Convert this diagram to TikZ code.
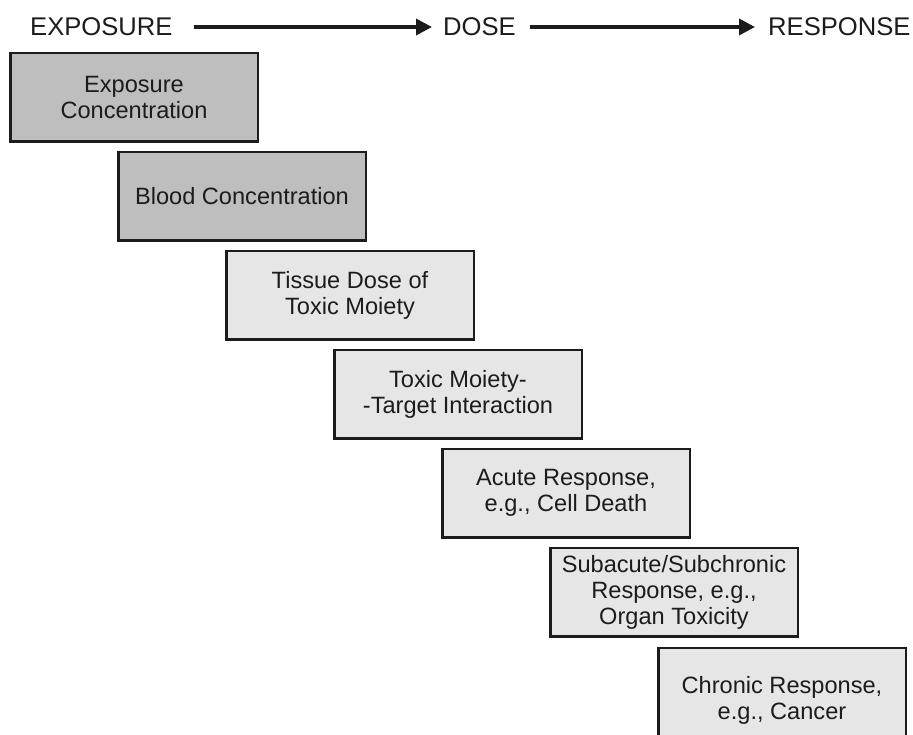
\documentclass[tikz,border=0pt]{standalone}
\usepackage{fontspec}
\setmainfont{Liberation Sans}
\usetikzlibrary{arrows.meta}
\definecolor{darkbox}{HTML}{BEBEBE}
\definecolor{lightbox}{HTML}{E6E6E6}
\definecolor{ink}{HTML}{1C1C1C}

\begin{document}
\begin{tikzpicture}[x=1pt, y=-1pt, font=\fontsize{23.6}{26}\selectfont,
  stage/.style={draw=ink, line width=2.5pt, minimum width=247.5pt, minimum height=88.5pt,
    align=center, text=ink},
  head/.style={anchor=base west, inner sep=0pt, text=ink, font=\fontsize{25.6}{28}\selectfont},
  flow/.style={line width=3.6pt, draw=ink, -{Triangle[length=16pt, width=16pt]}}]
\useasboundingbox (0,0) rectangle (913,734);
% Titres
\node[head] (expo) at (30,35) {EXPOSURE};
\node[head] (dose) at (443,35) {DOSE};
\node[head] (resp) at (768,35) {RESPONSE};
\draw[flow, shorten <=21pt, shorten >=11pt] (expo.east |- 0,27) -- (dose.west |- 0,27);
\draw[flow, shorten <=14pt, shorten >=13pt] (dose.east |- 0,27) -- (resp.west |- 0,27);
% Etapes
\foreach \i/\shade/\txt in {0/darkbox/{Exposure\\Concentration},
    1/darkbox/{Blood Concentration},
    2/lightbox/{Tissue Dose of\\Toxic Moiety},
    3/lightbox/{Toxic Moiety-\\-Target Interaction},
    4/lightbox/{Acute Response,\\e.g., Cell Death},
    5/lightbox/{Subacute/Subchronic\\Response, e.g.,\\Organ Toxicity}} {
  \node[stage, fill=\shade] (s\i) at (134+108*\i, 97+99*\i) {\txt};
}
% derniere etape, coupee en bas
\node[stage, fill=lightbox, minimum height=104pt] (s6) at (782,700) {Chronic Response,\\e.g., Cancer};
\end{tikzpicture}
\end{document}
